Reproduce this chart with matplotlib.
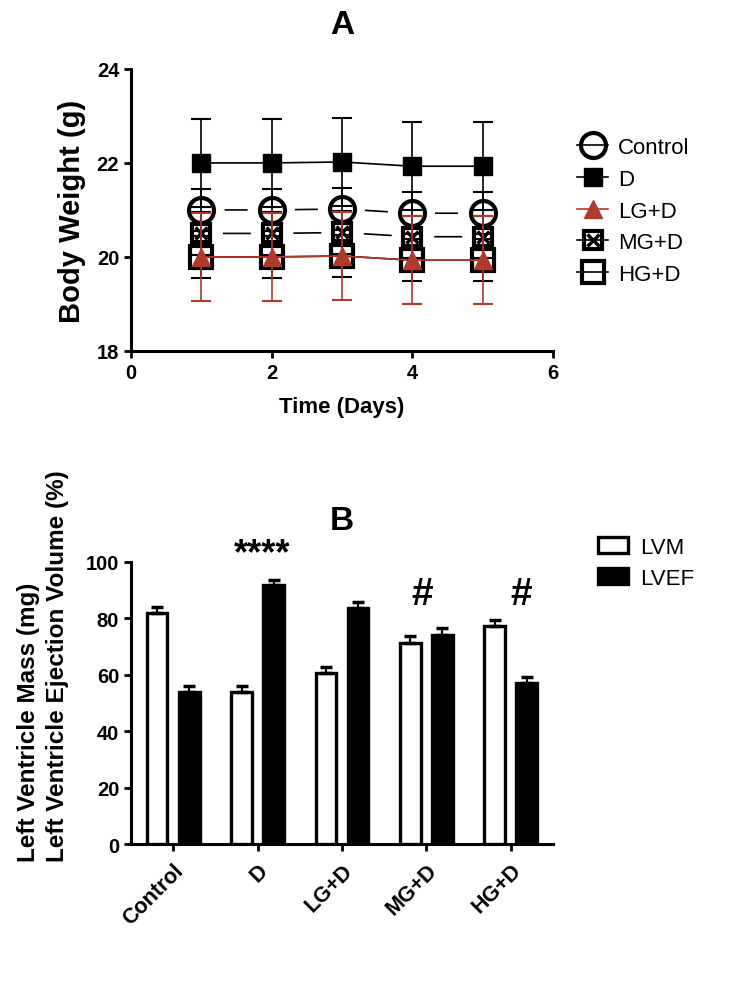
import matplotlib

matplotlib.use("Agg")
import matplotlib.pyplot as plt
from matplotlib.legend_handler import HandlerTuple
from matplotlib.lines import Line2D
from matplotlib.patches import Patch
import numpy as np

plt.rcParams["font.family"] = ["Liberation Sans", "DejaVu Sans"]

# ---- data, panel A (body weight) ----
days = [1, 2, 3, 4, 5]
control = [21.0, 21.0, 21.02, 20.93, 20.93]
d_only = [22.0, 22.0, 22.02, 21.93, 21.93]
lg_d = [20.0, 20.0, 20.02, 19.93, 19.93]
mg_d = [20.5, 20.5, 20.52, 20.43, 20.43]
hg_d = [20.0, 20.0, 20.02, 19.93, 19.93]
control_sd = [0.45, 0.45, 0.45, 0.45, 0.45]
d_sd = [0.94, 0.94, 0.94, 0.94, 0.94]
lg_sd = [0.94, 0.94, 0.94, 0.94, 0.94]
mg_sd = [0.45, 0.45, 0.45, 0.45, 0.45]
hg_sd = [0.45, 0.45, 0.45, 0.45, 0.45]

# ---- data, panel B (LV mass / ejection) ----
groups = ["Control", "D", "LG+D", "MG+D", "HG+D"]
lvm = [82.0, 54.0, 60.5, 71.2, 77.2]
lvm_err = [2.2, 2.0, 2.1, 2.4, 2.4]
lvef = [54.0, 92.0, 83.8, 74.2, 57.0]
lvef_err = [2.2, 1.6, 1.9, 2.4, 2.2]
marks = ["", "****", "", "#", "#"]

RED = "#b03a2c"
SPINE_W = 2.2

fig = plt.figure(figsize=(7.33, 10.03), dpi=100)


def style_axes(ax):
    for side in ("top", "right"):
        ax.spines[side].set_visible(False)
    for side in ("left", "bottom"):
        ax.spines[side].set_linewidth(SPINE_W)
    ax.tick_params(width=2, length=5, labelsize=14.5, direction="out")
    for lab in ax.get_xticklabels() + ax.get_yticklabels():
        lab.set_fontweight("bold")


# ================= panel A =================
axA = fig.add_axes([0.1787, 0.6491, 0.5757, 0.2812])
x = np.array(days)

# marker styles, reused for the legend proxies
HG_MK = dict(marker="s", ms=15.5, mew=3, mfc="none", mec="black")
MG_MK = dict(marker="s", ms=12.5, mew=3, mfc="none", mec="black")
CTL_MK = dict(marker="o", ms=18, mew=3, mfc="none", mec="black")
D_MK = dict(marker="s", ms=13, mew=1, mfc="black", mec="black")
LG_MK = dict(marker="^", ms=13, mew=1, mfc=RED, mec=RED)


def series(y, sd, color, ls, mk):
    axA.errorbar(x, y, yerr=sd, fmt="none", ecolor=color, elinewidth=1.2,
                 capsize=7.5, capthick=1.5)
    axA.plot(x, y, color=color, lw=1.2, ls=ls, **mk)


series(hg_d, hg_sd, "black", "-", HG_MK)
series(mg_d, mg_sd, "black", (29.4, (16.8, 25.5)), MG_MK)
axA.plot(x, mg_d, ls="none", marker="x", ms=8, mew=2.5, color="black")
series(control, control_sd, "black", (28.1, (13.8, 28.3)), CTL_MK)
series(d_only, d_sd, "black", "-", D_MK)
series(lg_d, lg_sd, RED, "-", LG_MK)

axA.set_xlim(0, 6)
axA.set_ylim(18, 24)
axA.set_xticks([0, 2, 4, 6])
axA.set_yticks([18, 20, 22, 24])
style_axes(axA)
axA.set_xlabel("Time (Days)", fontsize=16, fontweight="bold", labelpad=10)
axA.set_ylabel("Body Weight (g)", fontsize=21, fontweight="bold", labelpad=8)
axA.set_title("A", fontsize=24, fontweight="bold", pad=26)

handles = [
    Line2D([], [], color="black", lw=1.2, **CTL_MK),
    Line2D([], [], color="black", lw=1.2, **D_MK),
    Line2D([], [], color=RED, lw=1.2, **LG_MK),
    (Line2D([], [], color="black", lw=1.2, **MG_MK),
     Line2D([], [], ls="none", marker="x", ms=8, mew=2.5, color="black")),
    Line2D([], [], color="black", lw=1.2, **HG_MK),
]
fig.legend(handles, ["Control", "D", "LG+D", "MG+D", "HG+D"],
           loc="center left", bbox_to_anchor=(566 / 733, 1 - 212 / 1003),
           frameon=False, fontsize=16, handlelength=1.4, handletextpad=0.45,
           labelspacing=0.48, borderpad=0,
           handler_map={tuple: HandlerTuple(ndivide=1, pad=0)})

# ================= panel B =================
axB = fig.add_axes([0.1787, 0.1575, 0.5757, 0.2812])
pos = np.arange(len(groups))
off, bw = 0.19, 0.245
ekw = dict(elinewidth=1.5, capsize=4, capthick=2.5, ecolor="black")
axB.bar(pos - off, lvm, bw, color="white", edgecolor="black", lw=2.4,
        yerr=[np.zeros(len(lvm)), lvm_err], error_kw=ekw, zorder=3)
axB.bar(pos + off, lvef, bw, color="black", edgecolor="black", lw=2.4,
        yerr=[np.zeros(len(lvef)), lvef_err], error_kw=ekw, zorder=3)

mark_dx = [0, 0.05, 0, -0.05, 0.12]
for i, m in enumerate(marks):
    if m == "****":
        axB.text(pos[i] + mark_dx[i], 102.8, m, ha="center", va="center",
                 fontsize=26, fontweight="bold", clip_on=False)
    elif m:
        axB.text(pos[i] + mark_dx[i], 88.5, m, ha="center", va="center",
                 fontsize=28, fontweight="bold")

axB.set_xlim(-0.5, 4.5)
axB.set_ylim(0, 100)
axB.set_xticks(pos)
axB.set_xticklabels(groups, rotation=45, ha="right", rotation_mode="anchor")
axB.set_yticks([0, 20, 40, 60, 80, 100])
style_axes(axB)
axB.tick_params(axis="x", pad=6, labelsize=15.5)
axB.set_title("B", fontsize=24, fontweight="bold", pad=24)
fig.text(43 / 733, 1 - 862 / 1003,
         "Left Ventricle Mass (mg)\nLeft Ventricle Ejection Volume (%)",
         rotation=90, ha="center", va="bottom", multialignment="left",
         fontsize=17.5, fontweight="bold", linespacing=1.3)

fig.legend([Patch(facecolor="white", edgecolor="black", lw=2.4),
            Patch(facecolor="black", edgecolor="black", lw=2.4)],
           ["LVM", "LVEF"], loc="center left",
           bbox_to_anchor=(587 / 733, 1 - 564 / 1003), frameon=False,
           fontsize=16, handlelength=1.35, handleheight=0.7,
           handletextpad=0.55, labelspacing=0.45, borderpad=0)

fig.savefig("out.png", dpi=100)
